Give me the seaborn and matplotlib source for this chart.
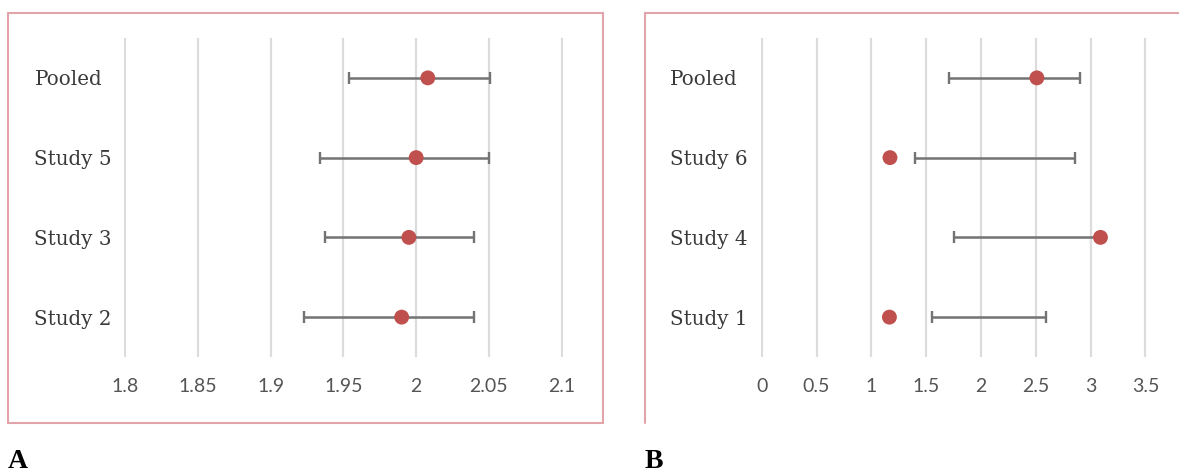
import numpy as np
import pandas as pd
import seaborn as sns
import matplotlib
matplotlib.use("Agg")
import matplotlib.pyplot as plt
from matplotlib.patches import Rectangle
from matplotlib.lines import Line2D

# ---------------- data ----------------
studies_a = ["Pooled", "Study 5", "Study 3", "Study 2"]
est_a = [2.008, 2.000, 1.995, 1.990]
lo_a = [1.954, 1.934, 1.937, 1.923]
hi_a = [2.051, 2.050, 2.040, 2.040]
ticks_a = [1.8, 1.85, 1.9, 1.95, 2.0, 2.05, 2.1]
ticklabels_a = ["1.8", "1.85", "1.9", "1.95", "2", "2.05", "2.1"]

studies_b = ["Pooled", "Study 6", "Study 4", "Study 1"]
est_b = [2.51, 1.17, 3.09, 1.165]
lo_b = [1.71, 1.40, 1.75, 1.55]
hi_b = [2.90, 2.86, 3.09, 2.59]
ticks_b = [0, 0.5, 1, 1.5, 2, 2.5, 3, 3.5]
ticklabels_b = ["0", "0.5", "1", "1.5", "2", "2.5", "3", "3.5"]

panel_labels = ["A", "B"]

# ---------------- style ----------------
sns.set_theme(style="white")
plt.rcParams["font.family"] = ["DejaVu Serif"]

W, H = 1179, 475
fig = plt.figure(figsize=(W / 100, H / 100), dpi=100)

DOT = "#C0504D"
BAR = "#737373"
GRID = "#DCDCDC"
BORDER = "#E2A4A8"


def px_rect(x0, y0, x1, y1):
    return [x0 / W, 1 - y1 / H, (x1 - x0) / W, (y1 - y0) / H]


def draw_panel(ax, studies, est, lo, hi, ticks, ticklabels, xlim):
    df = pd.DataFrame({
        "study": studies,
        "pos": np.arange(len(studies)),
        "est": est,
        "lo": lo,
        "hi": hi,
    })
    mid = (df["lo"] + df["hi"]) / 2
    half = (df["hi"] - df["lo"]) / 2
    ax.errorbar(mid, df["pos"], xerr=half, fmt="none", ecolor=BAR,
                elinewidth=1.8, capsize=4.5, capthick=1.7, zorder=2)
    sns.scatterplot(data=df, x="est", y="pos", ax=ax, color=DOT, s=115,
                    edgecolor="none", zorder=3, legend=False)
    ax.set_xlim(*xlim)
    ax.set_ylim(len(studies) - 0.5, -0.5)
    ax.set_xticks(ticks)
    ax.set_xticklabels(ticklabels, family=["Lato", "DejaVu Sans"],
                       fontsize=14, color="#555555")
    ax.set_yticks(df["pos"])
    ax.set_yticklabels(studies, fontsize=14.3, color="#3A3A3A", ha="left")
    ax.tick_params(axis="y", length=0, pad=64.5)
    ax.tick_params(axis="x", length=0, pad=15)
    ax.grid(axis="x", color=GRID, lw=1.6)
    ax.grid(axis="y", visible=False)
    for s in ax.spines.values():
        s.set_visible(False)
    ax.set_xlabel("")
    ax.set_ylabel("")
    ax.set_facecolor("none")


ax_a = fig.add_axes(px_rect(124, 38, 563, 357))
draw_panel(ax_a, studies_a, est_a, lo_a, hi_a, ticks_a, ticklabels_a,
           (1.799, 2.101))

ax_b = fig.add_axes(px_rect(760.6, 38, 1146.5, 357))
draw_panel(ax_b, studies_b, est_b, lo_b, hi_b, ticks_b, ticklabels_b,
           (-0.01, 3.51))
ax_b.tick_params(axis="y", pad=65.5)

# borders
fig.add_artist(Rectangle((8 / W, 1 - 423 / H), (603 - 8) / W, (423 - 13) / H,
                         transform=fig.transFigure, fill=False, ec=BORDER,
                         lw=1.5))
fig.add_artist(Line2D([645 / W, 645 / W], [1 - 423 / H, 1 - 13 / H],
                      transform=fig.transFigure, color=BORDER, lw=1.5))
fig.add_artist(Line2D([645 / W, 1.0], [1 - 13 / H, 1 - 13 / H],
                      transform=fig.transFigure, color=BORDER, lw=1.5))

# panel letters
fig.text(8 / W, 1 - 462 / H, panel_labels[0], fontsize=20, fontweight="bold",
         family=["Liberation Serif"], color="black", ha="left", va="center")
fig.text(645 / W, 1 - 462 / H, panel_labels[1], fontsize=20, fontweight="bold",
         family=["Liberation Serif"], color="black", ha="left", va="center")

fig.savefig("out.png", dpi=100, facecolor="white")
